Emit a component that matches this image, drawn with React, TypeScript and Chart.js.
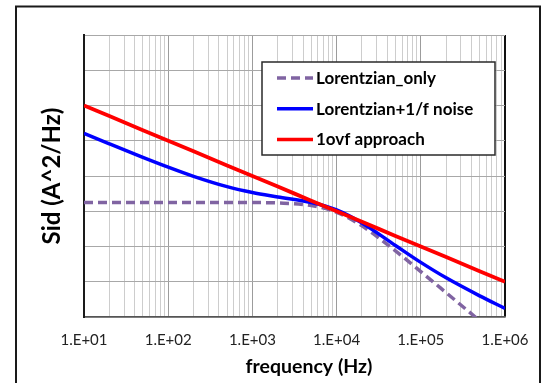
import React, { useEffect, useRef } from "react";
import { Chart, registerables } from "chart.js";

Chart.register(...registerables);

// ---- data ----
const FREQ = [10, 20, 50, 100, 200, 500, 1e3, 2e3, 5e3, 1e4, 2e4, 5e4, 1e5, 2e5, 5e5, 1e6];
const LORENTZIAN_ONLY = [
  1.78e-21, 1.78e-21, 1.78e-21, 1.78e-21, 1.78e-21, 1.775e-21, 1.764e-21, 1.718e-21,
  1.451e-21, 9.33e-22, 3.85e-22, 7.52e-23, 1.94e-23, 4.89e-24, 7.85e-25, 1.96e-25,
];
const LORENTZIAN_1F = [
  1.618e-19, 8.18e-20, 3.38e-20, 1.78e-20, 9.78e-21, 4.98e-21, 3.4e-21, 2.55e-21,
  1.77e-21, 1.09e-21, 4.65e-22, 1.07e-22, 3.54e-23, 1.29e-23, 3.98e-24, 1.75e-24,
];
const ONE_OVF = [
  1e-18, 5e-19, 2e-19, 1e-19, 5e-20, 2e-20, 1e-20, 5e-21,
  2e-21, 1e-21, 5e-22, 2e-22, 1e-22, 5e-23, 2e-23, 1e-23,
];
const SERIES_LABELS = ["Lorentzian_only", "Lorentzian+1/f noise", "1ovf approach"];
const SERIES_COLORS = ["#8064A2", "#0000FF", "#FF0000"];
const X_TICK_VALUES = [1e1, 1e2, 1e3, 1e4, 1e5, 1e6];
const X_TICK_LABELS = ["1.E+01", "1.E+02", "1.E+03", "1.E+04", "1.E+05", "1.E+06"];
const Y_MIN = 1e-24;
const Y_MAX = 1e-16;
const X_TITLE = "frequency (Hz)";
const Y_TITLE = "Sid (A^2/Hz)";

const FONT = "Lato, 'Open Sans', 'DejaVu Sans', sans-serif";

const near = (a: number, b: number) => Math.abs(a - b) <= Math.abs(b) * 1e-9;
const isDecade = (v: number) => X_TICK_VALUES.some((d) => near(v, d));

const decorPlugin = {
  id: "decor",
  afterDraw(chart: any) {
    const ctx = chart.ctx as CanvasRenderingContext2D;
    ctx.save();
    // outer frame
    ctx.strokeStyle = "#1a1a1a";
    ctx.lineWidth = 2;
    ctx.strokeRect(16, 6.5, 524, 420);

    // x axis title (centered as in reference)
    ctx.fillStyle = "#000";
    ctx.font = `bold 19.5px ${FONT}`;
    ctx.textAlign = "center";
    ctx.textBaseline = "alphabetic";
    ctx.fillText(X_TITLE, 309, 373);

    // legend box
    const bx = 262, by = 62, bw = 233, bh = 93;
    ctx.fillStyle = "#fff";
    ctx.fillRect(bx, by, bw, bh);
    ctx.strokeStyle = "#2a2a2a";
    ctx.lineWidth = 1.5;
    ctx.strokeRect(bx, by, bw, bh);
    const rows = [78, 108.7, 139.5];
    chart.data.datasets.forEach((ds: any, i: number) => {
      const y = rows[i];
      ctx.beginPath();
      ctx.setLineDash(ds.borderDash || []);
      ctx.strokeStyle = ds.borderColor;
      ctx.lineWidth = 3.5;
      ctx.moveTo(277, y);
      ctx.lineTo(313, y);
      ctx.stroke();
      ctx.setLineDash([]);
      ctx.fillStyle = "#000";
      ctx.font = `bold 17px ${FONT}`;
      ctx.textAlign = "left";
      ctx.textBaseline = "middle";
      ctx.fillText(ds.label, 316, y + 0.5);
    });
    ctx.restore();
  },
};

export default function App() {
  const ref = useRef<HTMLCanvasElement>(null);

  useEffect(() => {
    const xGridTicks: number[] = [];
    for (let e = 1; e <= 6; e++) {
      for (let m = 1; m <= 9; m++) {
        const v = m * Math.pow(10, e);
        if (v <= 1e6 + 1) xGridTicks.push(v);
        if (e === 6) break;
      }
    }
    const yGridTicks: number[] = [];
    for (let e = -24; e <= -16; e++) yGridTicks.push(Math.pow(10, e));

    const mk = (i: number, values: number[], extra: any) => ({
      label: SERIES_LABELS[i],
      data: FREQ.map((f, k) => ({ x: f, y: values[k] })),
      borderColor: SERIES_COLORS[i],
      backgroundColor: SERIES_COLORS[i],
      borderWidth: 3.5,
      pointRadius: 0,
      cubicInterpolationMode: "monotone",
      fill: false,
      clip: 0,
      ...extra,
    });

    const chart = new Chart(ref.current!, {
      type: "line",
      data: {
        datasets: [
          mk(0, LORENTZIAN_ONLY, { borderDash: [9, 5], order: 2 }),
          mk(1, LORENTZIAN_1F, { order: 1 }),
          mk(2, ONE_OVF, { order: 0, borderWidth: 3.8 }),
        ],
      },
      options: {
        animation: false,
        responsive: false,
        maintainAspectRatio: false,
        layout: { padding: { left: 0, top: 35, right: 42, bottom: 0 } },
        plugins: { legend: { display: false }, tooltip: { enabled: false } },
        scales: {
          x: {
            type: "logarithmic",
            min: 10,
            max: 1e6,
            afterBuildTicks: (scale: any) => {
              scale.ticks = xGridTicks.map((v) => ({ value: v, major: isDecade(v) }));
            },
            afterFit: (scale: any) => {
              scale.height = 66;
            },
            ticks: {
              autoSkip: false,
              maxRotation: 0,
              minRotation: 0,
              padding: 14,
              color: "#222",
              font: { family: FONT, size: 15 },
              callback: (value: any) => {
                const idx = X_TICK_VALUES.findIndex((d) => near(Number(value), d));
                return idx >= 0 ? X_TICK_LABELS[idx] : "";
              },
            },
            grid: {
              drawTicks: false,
              color: (c: any) => {
                const v = c.tick ? c.tick.value : 0;
                if (near(v, 1e6)) return "#111";
                return isDecade(v) ? "#9c9c9c" : "#cdcdcd";
              },
              lineWidth: (c: any) => (c.tick && near(c.tick.value, 1e6) ? 2 : 1),
            },
            border: { display: true, color: "#555", width: 1.5 },
            title: { display: false, text: X_TITLE },
          },
          y: {
            type: "logarithmic",
            min: Y_MIN,
            max: Y_MAX,
            afterBuildTicks: (scale: any) => {
              scale.ticks = yGridTicks.map((v) => ({ value: v, major: true }));
            },
            afterFit: (scale: any) => {
              scale.width = 84;
            },
            ticks: { display: false },
            grid: { drawTicks: false, color: "#a8a8a8", lineWidth: 1 },
            border: { display: true, color: "#1a1a1a", width: 2 },
            title: {
              display: true,
              text: Y_TITLE,
              color: "#000",
              font: { family: FONT, size: 24, weight: "bold" },
              padding: { top: 37.6, bottom: 0 },
            },
          },
        },
      },
      plugins: [decorPlugin],
    } as any);
    return () => chart.destroy();
  }, []);

  return (
    <div style={{ position: "fixed", left: 0, top: 0, width: 547, height: 383, background: "#fff" }}>
      <canvas ref={ref} width={547} height={383} style={{ display: "block", width: 547, height: 383 }} />
    </div>
  );
}
